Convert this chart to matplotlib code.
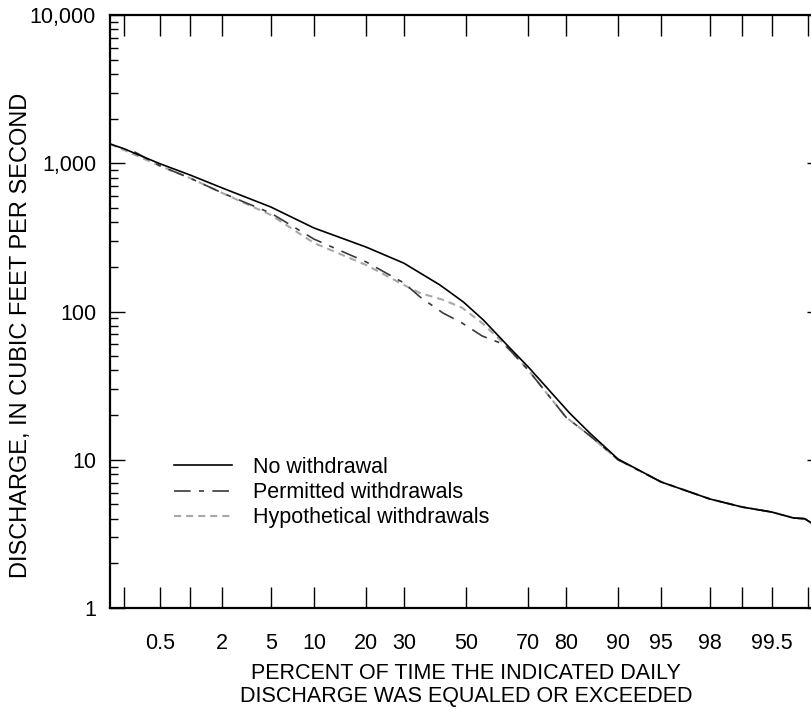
import numpy as np
import matplotlib
matplotlib.use("Agg")
import matplotlib.pyplot as plt
from matplotlib.ticker import FixedLocator, FixedFormatter, LogLocator, NullFormatter
from statistics import NormalDist

plt.rcParams['font.family'] = ['Liberation Sans', 'DejaVu Sans']

# === 数据: 超过概率 (%) 与流量 (ft3/s) ===
pct_no = [0.135, 0.2, 0.26, 0.5, 1, 2, 5, 10, 20, 30, 41.3, 49.1, 55.8, 64.5,
          70, 80.9, 85.2, 90, 95, 98, 99, 99.5, 99.71, 99.785, 99.82, 99.865]
q_no = [1350, 1250, 1170, 990, 834, 681, 507, 366, 272, 212, 151, 116, 87.7, 56.5,
        42.3, 20.6, 15.1, 10.1, 7.08, 5.44, 4.80, 4.44, 4.05, 4.0, 3.74, 3.6]

pct_perm = [0.26, 0.5, 1, 2, 5, 10, 20, 30, 35, 42.3, 48.7, 55.4, 61.3, 63.8,
            70, 80, 85.2, 90, 95, 98, 99, 99.5, 99.71, 99.785, 99.82, 99.865]
q_perm = [1195, 958, 795, 630, 461, 308, 216, 156, 125, 97.7, 83.6, 68.4, 61.4, 56.8,
          40.3, 19.4, 14.5, 10.0, 7.08, 5.44, 4.80, 4.44, 4.05, 4.0, 3.74, 3.6]

pct_hyp = [0.135, 0.5, 1, 2, 5, 10, 20, 30, 35, 42.3, 48.7, 55.4, 61.3, 63.8,
           70, 80, 85.2, 90, 95, 98, 99, 99.5, 99.71, 99.785, 99.82, 99.865]
q_hyp = [1350, 958, 795, 630, 448, 290, 206, 151, 133, 120, 106, 83.6, 64.3, 56.8,
         40.3, 19.4, 14.5, 10.0, 7.08, 5.44, 4.80, 4.44, 4.05, 4.0, 3.74, 3.6]

x_ticks = [0.2, 0.5, 1, 2, 5, 10, 20, 30, 50, 70, 80, 90, 95, 98, 99, 99.5, 99.8]
x_labels = ['', '0.5', '', '2', '5', '10', '20', '30', '50', '70', '80', '90',
            '95', '98', '', '99.5', '']
y_ticks = [1, 10, 100, 1000, 10000]
y_labels = ['1', '10', '100', '1,000', '10,000']

# === 正态概率坐标 ===
nd = NormalDist()


def prob_fwd(p):
    p = np.asarray(p, dtype=float)
    flat = np.clip(p.ravel() / 100.0, 1e-9, 1 - 1e-9)
    return np.array([nd.inv_cdf(v) for v in flat]).reshape(p.shape)


def prob_inv(z):
    z = np.asarray(z, dtype=float)
    return np.array([nd.cdf(v) * 100.0 for v in z.ravel()]).reshape(z.shape)


fig = plt.figure(figsize=(8.12, 7.10), dpi=100)
ax = fig.add_axes([110 / 812, 1 - 608 / 710, 712 / 812, 593 / 710])
ax.set_xscale('function', functions=(prob_fwd, prob_inv))
ax.set_yscale('log')

ax.plot(pct_no, q_no, color='black', lw=1.2, zorder=4, label='No withdrawal')
ax.plot(pct_perm, q_perm, color='#3a3a3a', lw=1.2, dashes=(10, 5, 3, 5),
        zorder=3, label='Permitted withdrawals')
ax.plot(pct_hyp, q_hyp, color='#a8a8a8', lw=1.5, dashes=(3.4, 2.4),
        zorder=2, label='Hypothetical withdrawals')

ax.set_xlim(0.135, 99.865)
ax.set_ylim(1, 10000)

ax.xaxis.set_major_locator(FixedLocator(x_ticks))
ax.xaxis.set_major_formatter(FixedFormatter(x_labels))
ax.xaxis.set_minor_locator(FixedLocator([]))
ax.yaxis.set_major_locator(FixedLocator(y_ticks))
ax.yaxis.set_major_formatter(FixedFormatter(y_labels))
ax.yaxis.set_minor_locator(LogLocator(base=10, subs=np.arange(2, 10)))
ax.yaxis.set_minor_formatter(NullFormatter())

ax.tick_params(axis='x', which='major', direction='in', top=True, bottom=True,
               length=15, width=1.0, pad=18, labelsize=15.5)
ax.tick_params(axis='y', which='major', direction='in', left=True, right=True,
               length=11, width=1.0, pad=10, labelsize=15.5)
ax.tick_params(axis='y', which='minor', direction='in', left=True, right=False,
               length=6, width=1.0)

for s in ax.spines.values():
    s.set_linewidth(1.6)

ax.set_xlabel('PERCENT OF TIME THE INDICATED DAILY\nDISCHARGE WAS EQUALED OR EXCEEDED',
              fontsize=15.5, linespacing=1.15)
ax.xaxis.set_label_coords(0.5, -0.092)
ax.set_ylabel('DISCHARGE, IN CUBIC FEET PER SECOND', fontsize=17)
ax.yaxis.set_label_coords(-0.110, 0.46)

ax.legend(loc='upper left', bbox_to_anchor=(0.09, 0.255), frameon=False,
          fontsize=15.5, handlelength=2.7, handletextpad=0.95, labelspacing=0.2,
          borderpad=0, borderaxespad=0)

fig.savefig('out.png', dpi=100)
